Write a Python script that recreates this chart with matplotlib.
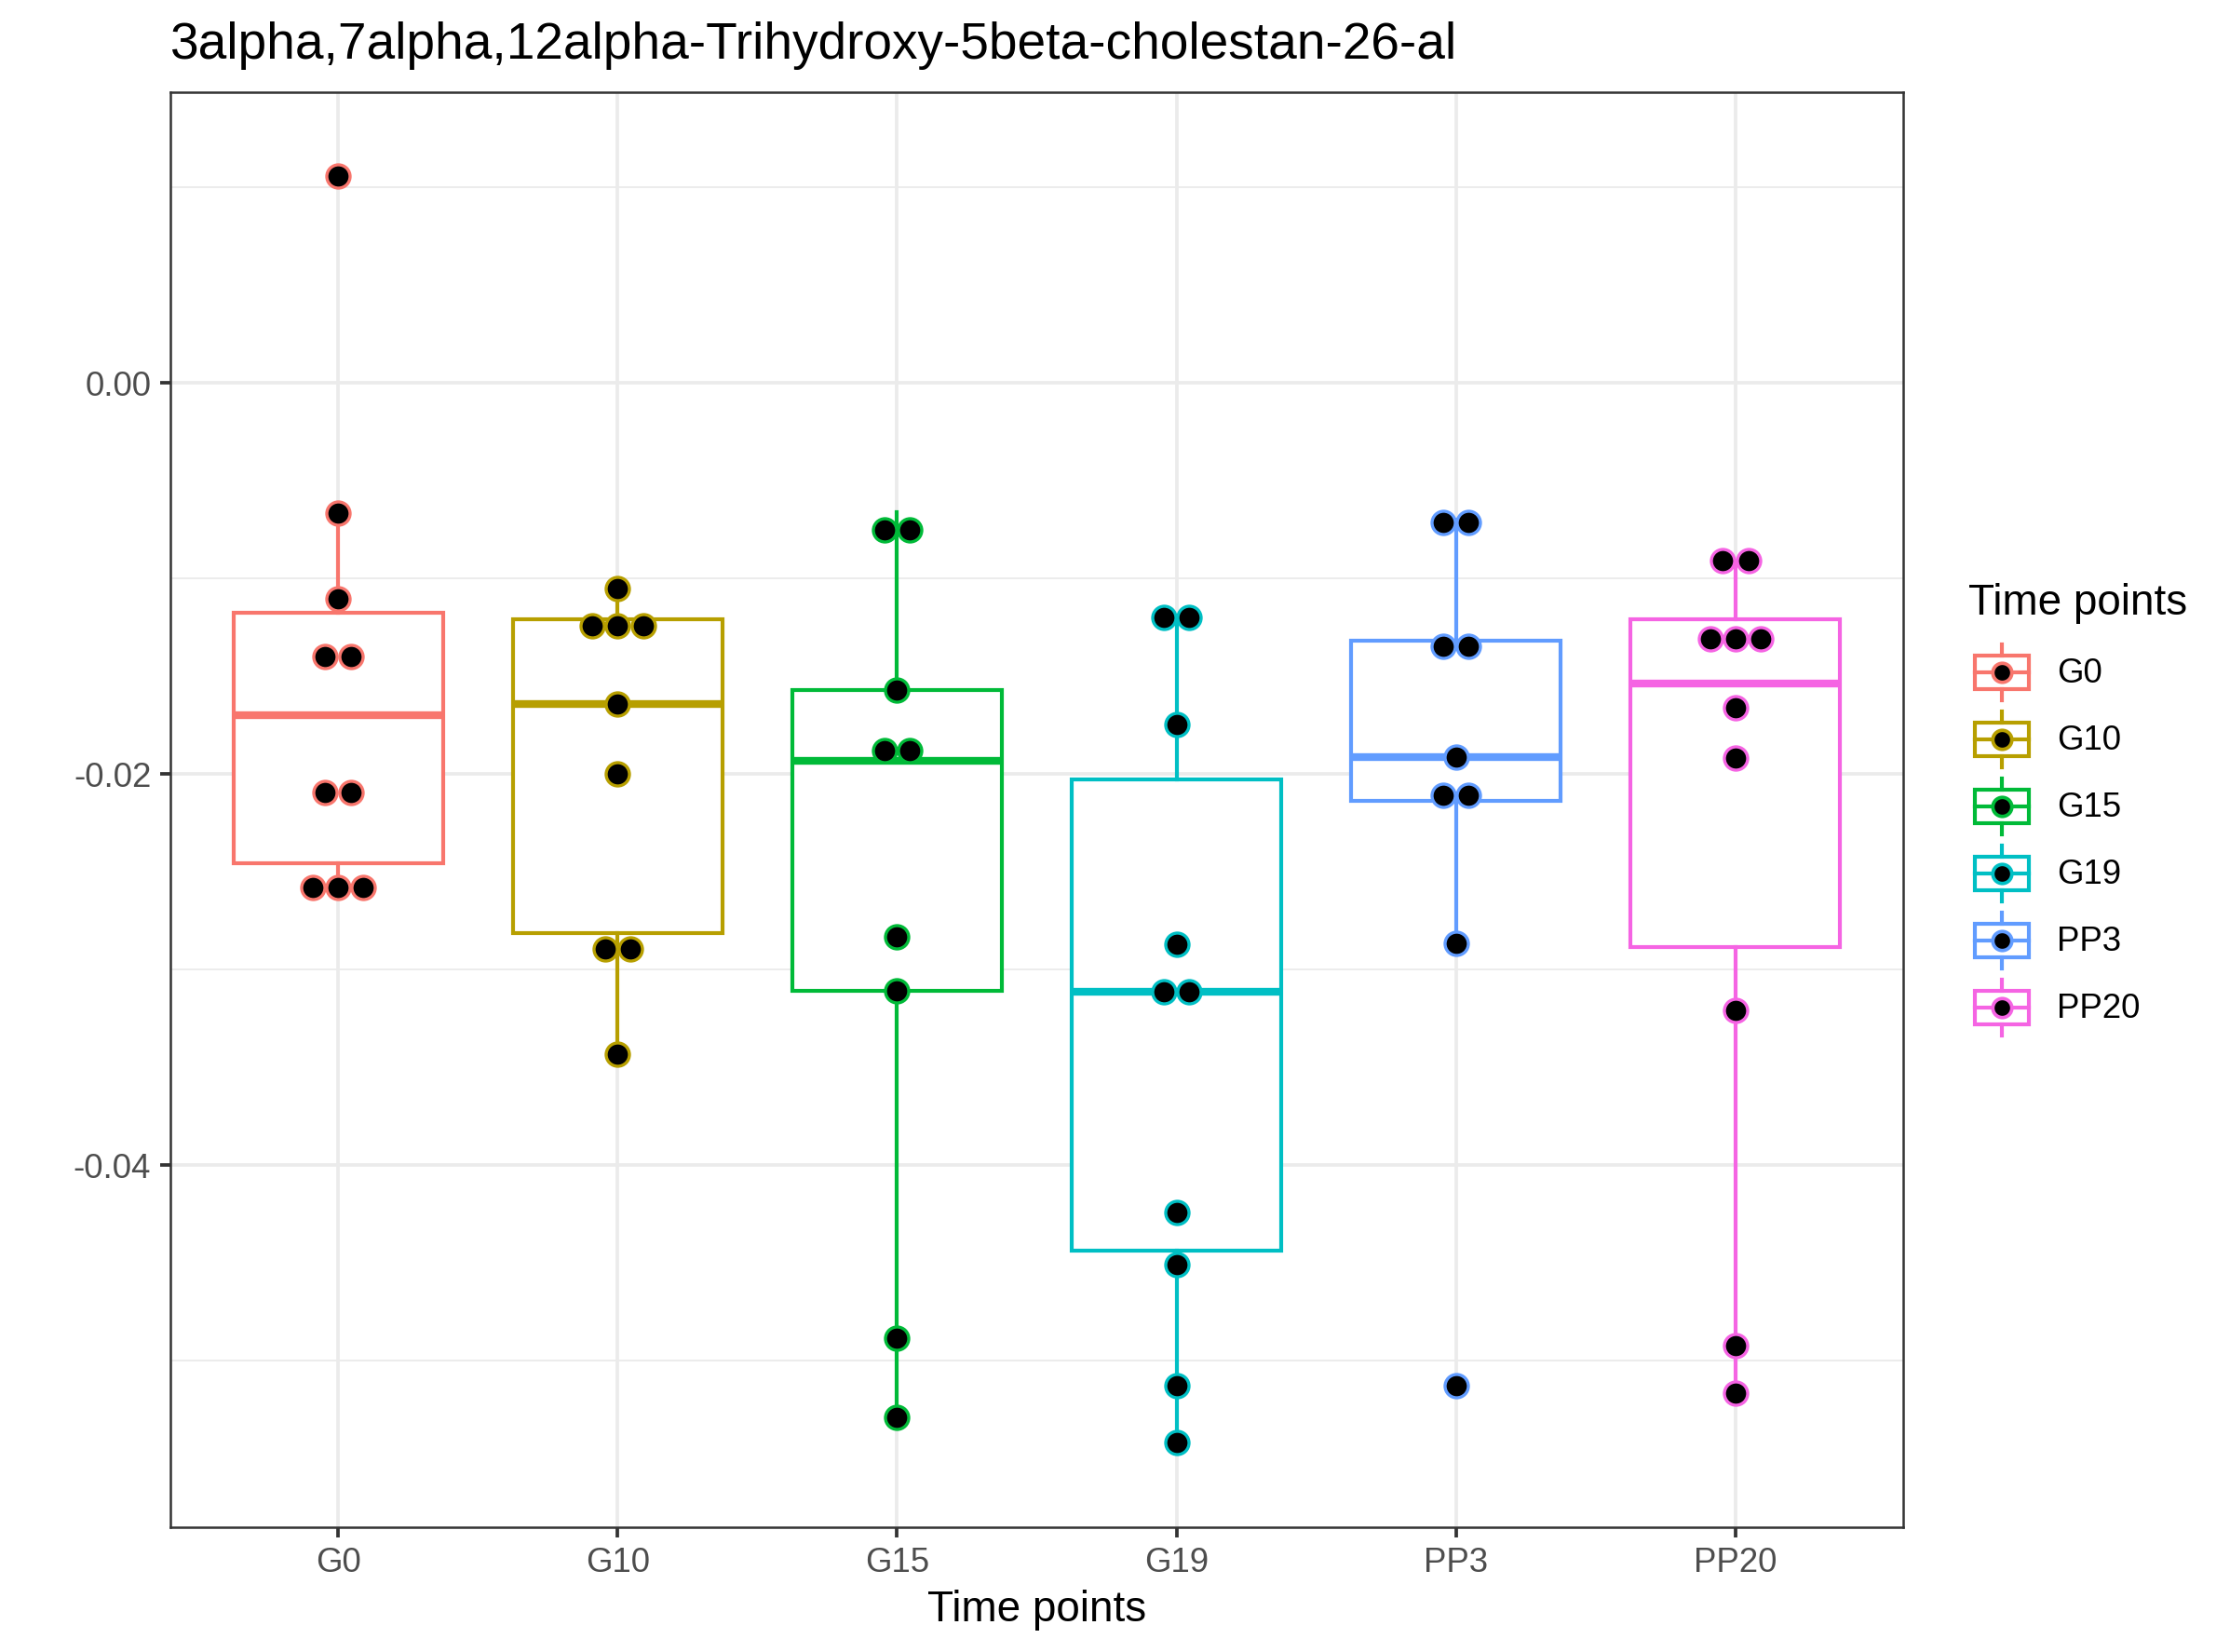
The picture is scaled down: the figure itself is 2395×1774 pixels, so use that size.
import matplotlib
matplotlib.use("Agg")
import matplotlib.pyplot as plt
from matplotlib.legend_handler import HandlerBase
from matplotlib.patches import Rectangle
from matplotlib.lines import Line2D
from matplotlib.transforms import ScaledTranslation
from collections import Counter

plt.rcParams['font.family'] = ['Liberation Sans', 'DejaVu Sans']

# ---------------- data ----------------
title = "3alpha,7alpha,12alpha-Trihydroxy-5beta-cholestan-26-al"
groups = ["G0", "G10", "G15", "G19", "PP3", "PP20"]
colors = ["#F8766D", "#B79F00", "#00BA38", "#00BFC4", "#619CFF", "#F564E3"]

# dot-plot values (bin centres, repeated values stack side by side)
dots_G0 = [0.01059, -0.00664, -0.01103, -0.01400, -0.01400, -0.02092, -0.02092,
           -0.02577, -0.02577, -0.02577]
dots_G10 = [-0.01049, -0.01240, -0.01240, -0.01240, -0.01640, -0.01998,
            -0.02891, -0.02891, -0.03432]
dots_G15 = [-0.00750, -0.00750, -0.01569, -0.01881, -0.01881, -0.02829,
            -0.03109, -0.04885, -0.05287]
dots_G19 = [-0.01196, -0.01196, -0.01743, -0.02867, -0.03110, -0.03110,
            -0.04242, -0.04507, -0.05126, -0.05415]
dots_PP3 = [-0.00714, -0.00714, -0.01346, -0.01346, -0.01914, -0.02105,
            -0.02105, -0.02864, -0.05127]
dots_PP20 = [-0.00905, -0.00905, -0.01305, -0.01305, -0.01305, -0.01660,
             -0.01917, -0.03209, -0.04920, -0.05162]
dots = [dots_G0, dots_G10, dots_G15, dots_G19, dots_PP3, dots_PP20]

# box statistics
box_q1 = [-0.02456, -0.02814, -0.03109, -0.04437, -0.02135, -0.02882]
box_med = [-0.01700, -0.01640, -0.01930, -0.03110, -0.01914, -0.01538]
box_q3 = [-0.01176, -0.01207, -0.01569, -0.02025, -0.01315, -0.01206]
whis_lo = [-0.02577, -0.03432, -0.05287, -0.05415, -0.02864, -0.05162]
whis_hi = [-0.00664, -0.01049, -0.00660, -0.01196, -0.00700, -0.00905]

y_major = [0.00, -0.02, -0.04]
y_minor = [0.01, -0.01, -0.03, -0.05]
y_labels = ["0.00", "-0.02", "-0.04"]

# ---------------- figure ----------------
W, H, DPI = 2395, 1774, 300
fig = plt.figure(figsize=(W / DPI, H / DPI), dpi=DPI)
L, R, T, B = 183, 2044, 99, 1640
ax = fig.add_axes([L / W, 1 - B / H, (R - L) / W, (B - T) / H])

grey92 = "#EBEBEB"
ax.set_axisbelow(True)

# boxes
for i, g in enumerate(groups):
    st = [dict(med=box_med[i], q1=box_q1[i], q3=box_q3[i],
               whislo=whis_lo[i], whishi=whis_hi[i], fliers=[])]
    c = colors[i]
    ax.bxp(st, positions=[i + 1], widths=0.75, showfliers=False, showcaps=False,
           patch_artist=True, manage_ticks=False,
           boxprops=dict(facecolor="white", edgecolor=c, linewidth=1.0),
           whiskerprops=dict(color=c, linewidth=1.0),
           medianprops=dict(color=c, linewidth=2.0, solid_capstyle='butt'),
           zorder=2)

# dots (stacked horizontally, centre-justified)
ms, mew = 6.0, 0.8
step_pt = 6.55
for i, vals in enumerate(dots):
    c = colors[i]
    for v, n in Counter(vals).items():
        for k in range(n):
            dx = (k - (n - 1) / 2) * step_pt / 72
            tr = ax.transData + ScaledTranslation(dx, 0, fig.dpi_scale_trans)
            ax.plot([i + 1], [v], 'o', ms=ms, mfc='black', mec=c, mew=mew,
                    transform=tr, zorder=4, clip_on=False)

ax.set_xlim(0.4, len(groups) + 0.6)
ax.set_ylim(-0.0585, 0.01488)
ax.set_yticks(y_major)
ax.set_yticklabels(y_labels)
ax.set_yticks(y_minor, minor=True)
ax.set_xticks(range(1, len(groups) + 1))
ax.set_xticklabels(groups)
ax.grid(True, which='major', color=grey92, lw=0.9)
ax.grid(True, which='minor', axis='y', color=grey92, lw=0.45)
ax.tick_params(axis='both', which='major', length=2.75, width=0.9, color="#333333",
               labelsize=8.8, labelcolor="#4D4D4D", pad=2.2)
ax.tick_params(axis='y', which='minor', length=0)
for s in ax.spines.values():
    s.set_color("#333333")
    s.set_linewidth(0.6)

ax.set_xlabel("Time points", fontsize=11, color="black", labelpad=2.75)
ax.set_title(title, loc='left', fontsize=13.2, color="black", pad=8.6)


# legend
class BoxDotHandler(HandlerBase):
    def create_artists(self, legend, orig_handle, xdescent, ydescent, width,
                       height, fontsize, trans):
        c = orig_handle.get_color()
        x0, y0 = -xdescent, -ydescent
        w, h = width, height
        rect = Rectangle((x0 + 0.1 * w, y0 + 0.25 * h), 0.8 * w, 0.5 * h,
                         facecolor='white', edgecolor=c, lw=1.0, transform=trans)
        med = Line2D([x0 + 0.1 * w, x0 + 0.9 * w], [y0 + 0.5 * h] * 2, color=c,
                     lw=1.0, transform=trans)
        wt = Line2D([x0 + 0.5 * w] * 2, [y0 + 0.75 * h, y0 + 0.92 * h], color=c,
                    lw=1.0, transform=trans)
        wb = Line2D([x0 + 0.5 * w] * 2, [y0 + 0.08 * h, y0 + 0.25 * h], color=c,
                    lw=1.0, transform=trans)
        dot = Line2D([x0 + 0.5 * w], [y0 + 0.5 * h], linestyle='none', marker='o',
                     ms=4.9, mfc='black', mec=c, mew=0.9, transform=trans)
        return [rect, med, wt, wb, dot]


fs = 8.8
key_pt = 17.28
hh = (key_pt / fs - 0.245) / 0.65
handles = [Line2D([], [], color=c) for c in colors]
leg = fig.legend(handles, groups, loc='upper left',
                 bbox_to_anchor=(2114 / W, 1 - 626 / H),
                 bbox_transform=fig.transFigure,
                 frameon=False, fontsize=fs, title="Time points",
                 title_fontsize=11, handlelength=key_pt / fs,
                 handleheight=hh, labelspacing=0, handletextpad=0.64,
                 borderpad=0, borderaxespad=0, alignment='left',
                 handler_map={Line2D: BoxDotHandler()})
leg._legend_box.sep = 3.8

fig.savefig("out.png", dpi=DPI)
